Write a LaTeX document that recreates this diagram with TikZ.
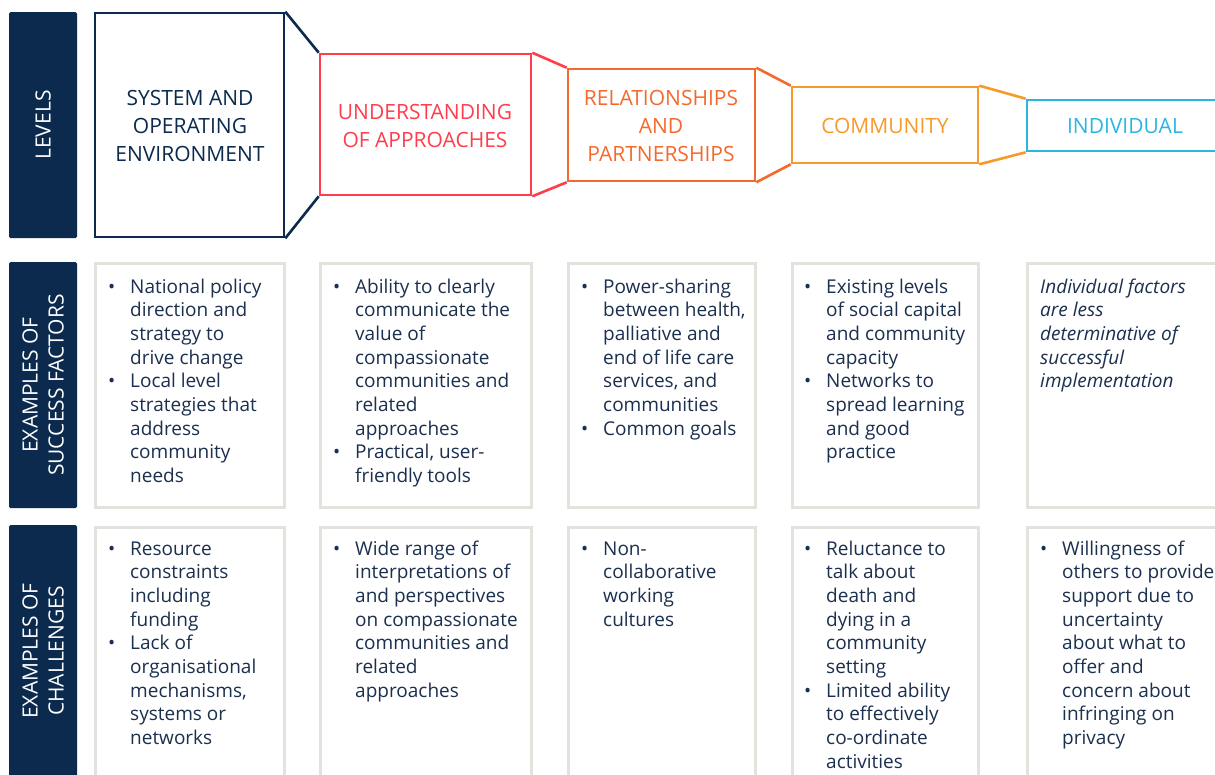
\documentclass[tikz,border=0pt]{standalone}
\usepackage{fontspec}
\setmainfont{Open Sans}
\usepackage{array}
\definecolor{navy}{HTML}{0B2A4E}
\definecolor{txt}{HTML}{1B2F4E}
\definecolor{cred}{HTML}{FF3D4D}
\definecolor{corr}{HTML}{F46A2C}
\definecolor{cora}{HTML}{F79A2B}
\definecolor{ccyan}{HTML}{2BB6E2}
\definecolor{gbox}{HTML}{E3E3DD}
\newcommand{\bl}[1]{\begin{tabular}[t]{@{}p{22pt}@{}l@{}}#1\end{tabular}}
\newcommand{\pl}[1]{\begin{tabular}[t]{@{}l@{}}#1\end{tabular}}
\newcommand{\bu}{\textbullet}
\tikzset{
  bar/.style={fill=navy, rounded corners=1.5pt},
  barlabel/.style={text=white, rotate=90, align=center, font=\fontsize{21}{26}\selectfont, inner sep=0pt},
  lvl/.style={draw, line width=2.6pt, fill=white, inner sep=0pt},
  lvltext/.style={align=center, font=\fontsize{21}{28}\selectfont, inner sep=0pt},
  gcell/.style={draw=gbox, line width=3pt, fill=white, inner sep=0pt},
  body/.style={text=txt, font=\fontsize{19}{23.7}\selectfont, inner sep=0pt, anchor=base west},
}
\begin{document}
\begin{tikzpicture}[x=1pt,y=-1pt]
\useasboundingbox (0,0) rectangle (1215,774);
% left bars
\node[bar, minimum width=68pt, minimum height=226pt] (b1) at (43,125) {};
\node[bar, minimum width=68pt, minimum height=246pt] (b2) at (43,385) {};
\node[bar, minimum width=68pt, minimum height=265pt] (b3) at (43,657.5) {};
\node[barlabel] (l1) at (43,125) {LEVELS};
\node[barlabel] (l2) at (43,385) {EXAMPLES OF\\SUCCESS FACTORS};
\node[barlabel] (l3) at (43,651) {EXAMPLES OF\\CHALLENGES};
% level boxes
\node[lvl, draw=navy, minimum width=189pt, minimum height=224pt] (h1) at (189.5,125) {};
\node[lvl, draw=cred, minimum width=211pt, minimum height=141pt] (h2) at (425.5,124.5) {};
\node[lvl, draw=corr, minimum width=187pt, minimum height=112pt] (h3) at (661.5,125) {};
\node[lvl, draw=cora, minimum width=186pt, minimum height=76pt] (h4) at (885,125) {};
\node[lvl, draw=ccyan, minimum width=200pt, minimum height=51pt] (h5) at (1127,125.5) {};
% funnel connectors
\draw[navy, line width=2.6pt] (h1.north east) -- (h2.north west);
\draw[navy, line width=2.6pt] (h1.south east) -- (h2.south west);
\draw[cred, line width=2.6pt] (h2.north east) -- (h3.north west);
\draw[cred, line width=2.6pt] (h2.south east) -- (h3.south west);
\draw[corr, line width=2.6pt] (h3.north east) -- (h4.north west);
\draw[corr, line width=2.6pt] (h3.south east) -- (h4.south west);
\draw[cora, line width=2.6pt] (h4.north east) -- (h5.north west);
\draw[cora, line width=2.6pt] (h4.south east) -- (h5.south west);
% redraw box outlines on top of connectors
\node[lvl, draw=navy, minimum width=189pt, minimum height=224pt] at (h1) {};
\node[lvl, draw=cred, minimum width=211pt, minimum height=141pt] at (h2) {};
\node[lvl, draw=corr, minimum width=187pt, minimum height=112pt] at (h3) {};
\node[lvl, draw=cora, minimum width=186pt, minimum height=76pt] at (h4) {};
\node[lvl, draw=ccyan, minimum width=200pt, minimum height=51pt] at (h5) {};
\node[lvltext, text=navy] (t1) at (190,126) {SYSTEM AND\\OPERATING\\ENVIRONMENT};
\node[lvltext, text=cred] (t2) at (425,126) {UNDERSTANDING\\OF APPROACHES};
\node[lvltext, text=corr] (t3) at (661,126) {RELATIONSHIPS\\AND\\PARTNERSHIPS};
\node[lvltext, text=cora] (t4) at (885,126) {COMMUNITY};
\node[lvltext, text=ccyan] (t5) at (1125,126) {INDIVIDUAL};
% grey cells row 2
\node[gcell, minimum width=189pt, minimum height=244pt] (s1) at (189.5,385) {};
\node[gcell, minimum width=211pt, minimum height=244pt] (s2) at (425.5,385) {};
\node[gcell, minimum width=187pt, minimum height=244pt] (s3) at (661.5,385) {};
\node[gcell, minimum width=186pt, minimum height=244pt] (s4) at (885,385) {};
\node[gcell, minimum width=200pt, minimum height=244pt] (s5) at (1127,385) {};
% grey cells row 3
\node[gcell, minimum width=189pt, minimum height=263pt] (c1) at (189.5,658.5) {};
\node[gcell, minimum width=211pt, minimum height=263pt] (c2) at (425.5,658.5) {};
\node[gcell, minimum width=187pt, minimum height=263pt] (c3) at (661.5,658.5) {};
\node[gcell, minimum width=186pt, minimum height=263pt] (c4) at (885,658.5) {};
\node[gcell, minimum width=200pt, minimum height=263pt] (c5) at (1127,658.5) {};
% row 2 texts
\node[body] (st1) at (108,293) {\bl{\bu & National policy\\ & direction and\\ & strategy to\\ & drive change\\ \bu & Local level\\ & strategies that\\ & address\\ & community\\ & needs}};
\node[body] (st2) at (333,293) {\bl{\bu & Ability to clearly\\ & communicate the\\ & value of\\ & compassionate\\ & communities and\\ & related\\ & approaches\\ \bu & Practical, user-\\ & friendly tools}};
\node[body] (st3) at (581,293) {\bl{\bu & Power-sharing\\ & between health,\\ & palliative and\\ & end of life care\\ & services, and\\ & communities\\ \bu & Common goals}};
\node[body] (st4) at (804,293) {\bl{\bu & Existing levels\\ & of social capital\\ & and community\\ & capacity\\ \bu & Networks to\\ & spread learning\\ & and good\\ & practice}};
\node[body, font=\fontsize{19}{23.7}\selectfont\itshape] (st5) at (1040,293) {\pl{Individual factors\\are less\\determinative of\\successful\\implementation}};
% row 3 texts
\node[body] (ct1) at (108,555) {\bl{\bu & Resource\\ & constraints\\ & including\\ & funding\\ \bu & Lack of\\ & organisational\\ & mechanisms,\\ & systems or\\ & networks}};
\node[body] (ct2) at (333,555) {\bl{\bu & Wide range of\\ & interpretations of\\ & and perspectives\\ & on compassionate\\ & communities and\\ & related\\ & approaches}};
\node[body] (ct3) at (581,555) {\bl{\bu & Non-\\ & collaborative\\ & working\\ & cultures}};
\node[body] (ct4) at (804,555) {\bl{\bu & Reluctance to\\ & talk about\\ & death and\\ & dying in a\\ & community\\ & setting\\ \bu & Limited ability\\ & to effectively\\ & co-ordinate\\ & activities}};
\node[body] (ct5) at (1040,555) {\bl{\bu & Willingness of\\ & others to provide\\ & support due to\\ & uncertainty\\ & about what to\\ & offer and\\ & concern about\\ & infringing on\\ & privacy}};
\end{tikzpicture}
\end{document}
